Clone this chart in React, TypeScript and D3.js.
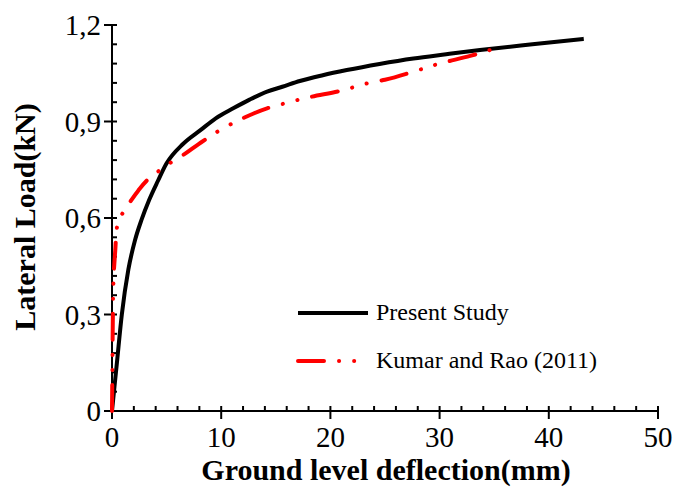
import React from "react";
import * as d3 from "d3";

const presentX = [0, 0.45, 0.9, 1.5, 2.1, 2.7, 3.4, 4.2, 5.0, 6.5, 8.1, 9.5, 11.1, 12.6, 14.2, 15.6, 17.2, 19.3, 21.5, 24.5, 27.6, 30.6, 33.7, 38.5, 43.2];
const presentY = [0, 0.15, 0.3, 0.44, 0.53, 0.594, 0.656, 0.715, 0.77, 0.83, 0.873, 0.91, 0.941, 0.968, 0.993, 1.008, 1.026, 1.044, 1.06, 1.079, 1.096, 1.109, 1.122, 1.14, 1.157];

const kumarX = [0, 0.04, 0.08, 0.15, 0.3, 0.45, 0.8, 1.6, 2.4, 3.3, 4.4, 5.5, 6.7, 7.9, 10.2, 12.7, 14.2, 16.0, 18.0, 20.9, 23.3, 25.0, 27.6, 30.0, 32.8, 35.8];
const kumarY = [0, 0.15, 0.3, 0.42, 0.5, 0.57, 0.604, 0.647, 0.685, 0.72, 0.749, 0.775, 0.8, 0.829, 0.879, 0.921, 0.941, 0.958, 0.975, 0.995, 1.018, 1.03, 1.055, 1.08, 1.104, 1.135];

const xMajorTicks = [0, 10, 20, 30, 40, 50];
const yMajorTicks = [0, 0.3, 0.6, 0.9, 1.2];
const yTickLabels = ["0", "0,3", "0,6", "0,9", "1,2"];
const seriesNames = ["Present Study", "Kumar and Rao (2011)"];

const FONT = "Liberation Serif, Times New Roman, serif";

export default function App() {
  const W = 685, H = 489;
  const x = d3.scaleLinear().domain([0, 50]).range([112, 658]);
  const y = d3.scaleLinear().domain([0, 1.2]).range([411, 25]);
  const xMinor = d3.range(0, 50.001, 2).filter((v) => v % 10 !== 0);
  const yMinor = d3.range(0, 1.2001, 0.06).filter((v) => Math.abs(v / 0.3 - Math.round(v / 0.3)) > 1e-6);

  const line = d3.line<[number, number]>().x((d) => x(d[0])).y((d) => y(d[1])).curve(d3.curveMonotoneX);
  const presentPts = presentX.map((v, i) => [v, presentY[i]] as [number, number]);
  const kumarPts = kumarX.map((v, i) => [v, kumarY[i]] as [number, number]);
  const lineK = d3.line<[number, number]>().x((d) => x(d[0])).y((d) => y(d[1])).curve(d3.curveMonotoneY);

  const dash = "26 15 0.1 15 0.1 15";

  return (
    <svg width={W} height={H} style={{ position: "absolute", left: 0, top: 0 }}>
      <rect width={W} height={H} fill="#fff" />
      {/* axes */}
      <line x1={x(0)} x2={x(50)} y1={y(0)} y2={y(0)} stroke="#000" strokeWidth={2} />
      <line x1={x(0)} x2={x(0)} y1={y(0)} y2={y(1.2)} stroke="#000" strokeWidth={2} />
      {xMajorTicks.map((t) => (
        <g key={"xm" + t}>
          <line x1={x(t)} x2={x(t)} y1={y(0) - 5} y2={y(0) + 8} stroke="#000" strokeWidth={2} />
          <text x={x(t)} y={447} textAnchor="middle" fontFamily={FONT} fontSize={29}>{t}</text>
        </g>
      ))}
      {xMinor.map((t) => (
        <line key={"xn" + t} x1={x(t)} x2={x(t)} y1={y(0) - 5} y2={y(0)} stroke="#000" strokeWidth={2} />
      ))}
      {yMajorTicks.map((t, i) => (
        <g key={"ym" + t}>
          <line x1={x(0) - 8} x2={x(0) + 5} y1={y(t)} y2={y(t)} stroke="#000" strokeWidth={2} />
          <text x={101} y={y(t) + 10} textAnchor="end" fontFamily={FONT} fontSize={29}>{yTickLabels[i]}</text>
        </g>
      ))}
      {yMinor.map((t) => (
        <line key={"yn" + t} x1={x(0)} x2={x(0) + 5} y1={y(t)} y2={y(t)} stroke="#000" strokeWidth={2} />
      ))}
      {/* titles */}
      <text x={386} y={480} textAnchor="middle" fontFamily={FONT} fontSize={30} fontWeight="bold">Ground level deflection(mm)</text>
      <text transform="translate(35,217) rotate(-90)" textAnchor="middle" fontFamily={FONT} fontSize={30} fontWeight="bold">Lateral Load(kN)</text>
      {/* series */}
      <path d={line(presentPts) || ""} fill="none" stroke="#000" strokeWidth={4} strokeLinejoin="round" />
      <path d={lineK(kumarPts) || ""} fill="none" stroke="#ff0000" strokeWidth={4} strokeDasharray={dash} strokeLinecap="round" />
      {/* legend */}
      <line x1={298} x2={368} y1={313} y2={313} stroke="#000" strokeWidth={4} />
      <text x={376} y={320} fontFamily={FONT} fontSize={24}>{seriesNames[0]}</text>
      <line x1={298} x2={368} y1={361} y2={361} stroke="#ff0000" strokeWidth={4} strokeDasharray="26 15 0.1 15 0.1 15" strokeLinecap="round" />
      <text x={376} y={368} fontFamily={FONT} fontSize={24}>{seriesNames[1]}</text>
    </svg>
  );
}
